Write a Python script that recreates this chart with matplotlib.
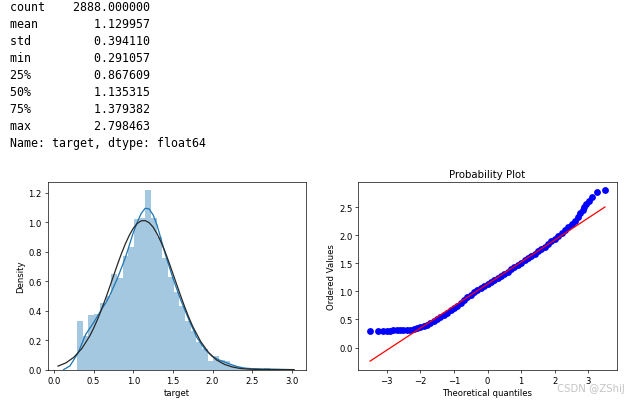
import numpy as np
import matplotlib
matplotlib.use("Agg")
import matplotlib.pyplot as plt

# describe() output printed above the figure
stat_names = ['count', 'mean', 'std', 'min', '25%', '50%', '75%', 'max']
stat_values = [2888.0, 1.129957, 0.394110, 0.291057, 0.867609, 1.135315, 1.379382, 2.798463]
series_footer = 'Name: target, dtype: float64'

# histogram densities (35 bins between min and max)
hist_density = [0.33, 0.23, 0.37, 0.38, 0.45, 0.50, 0.65, 0.62, 0.77, 0.83,
                1.02, 1.03, 1.22, 1.03, 0.90, 0.76, 0.63, 0.53, 0.43, 0.33,
                0.26, 0.19, 0.14, 0.06, 0.09, 0.065, 0.06, 0.03, 0.015, 0.01,
                0.005, 0.01, 0.005, 0.01, 0.005]

# kde curve (blue)
kde_x = [0.12, 0.2, 0.3, 0.4, 0.5, 0.6, 0.65, 0.7, 0.8, 0.9, 1.0, 1.05, 1.1, 1.15,
         1.2, 1.25, 1.3, 1.4, 1.5, 1.6, 1.7, 1.8, 1.9, 2.0, 2.1, 2.2, 2.3, 2.4,
         2.5, 2.6, 2.7, 2.8, 2.9, 3.0]
kde_y = [0.0, 0.025, 0.11, 0.24, 0.32, 0.41, 0.45, 0.50, 0.62, 0.76, 0.93, 1.00, 1.06, 1.095,
         1.09, 1.05, 0.98, 0.79, 0.62, 0.47, 0.34, 0.22, 0.14, 0.088, 0.062, 0.042, 0.022, 0.011,
         0.006, 0.005, 0.004, 0.003, 0.0015, 0.0005]

# fitted normal curve (dark)
fit_x = [0.05, 0.15, 0.25, 0.35, 0.45, 0.5, 0.55, 0.6, 0.65, 0.7, 0.75, 0.8, 0.85, 0.9,
         0.95, 1.0, 1.05, 1.1, 1.15, 1.2, 1.25, 1.3, 1.35, 1.4, 1.45, 1.5, 1.55, 1.6,
         1.65, 1.7, 1.75, 1.85, 1.95, 2.05, 2.15, 2.25, 2.35, 2.45, 2.55, 2.65, 2.75,
         2.85, 2.95, 3.03]
fit_y = [0.024, 0.046, 0.084, 0.143, 0.228, 0.282, 0.343, 0.410, 0.482, 0.558, 0.636, 0.713, 0.787, 0.854,
         0.912, 0.959, 0.992, 1.010, 1.011, 0.997, 0.967, 0.922, 0.866, 0.801, 0.728, 0.651, 0.574, 0.497,
         0.424, 0.355, 0.293, 0.191, 0.116, 0.066, 0.036, 0.018, 0.008, 0.004, 0.0015, 0.0006, 0.0002,
         0.0001, 0.0, 0.0]

# probability plot points
qq_theoretical = [-3.49, -3.25, -3.11, -3.0, -2.9, -2.8, -2.7, -2.6, -2.5, -2.4, -2.3, -2.2,
                  -2.1, -2.0, -1.9, -1.8, -1.7, -1.6, -1.5, -1.4, -1.3, -1.2, -1.1, -1.0,
                  -0.9, -0.8, -0.7, -0.6, -0.5, -0.4, -0.3, -0.2, -0.1, 0.0, 0.1, 0.2,
                  0.3, 0.4, 0.5, 0.6, 0.7, 0.8, 0.9, 1.0, 1.1, 1.2, 1.3, 1.4,
                  1.5, 1.6, 1.7, 1.8, 1.9, 2.0, 2.1, 2.2, 2.3, 2.4, 2.5, 2.6,
                  2.7, 2.76, 2.83, 2.88, 2.94, 3.02, 3.11, 3.25, 3.49]
qq_ordered = [0.29, 0.30, 0.30, 0.30, 0.30, 0.305, 0.305, 0.31, 0.31, 0.315, 0.32, 0.33,
              0.345, 0.36, 0.38, 0.41, 0.44, 0.47, 0.50, 0.54, 0.58, 0.62, 0.66, 0.70,
              0.74, 0.79, 0.85, 0.895, 0.94, 0.98, 1.02, 1.06, 1.10, 1.135, 1.17, 1.205,
              1.24, 1.275, 1.315, 1.35, 1.39, 1.43, 1.47, 1.51, 1.55, 1.59, 1.63, 1.67,
              1.71, 1.75, 1.79, 1.84, 1.89, 1.94, 1.99, 2.04, 2.10, 2.15, 2.20, 2.26,
              2.33, 2.39, 2.45, 2.50, 2.55, 2.60, 2.68, 2.76, 2.80]
qq_slope = 0.393
qq_intercept = 1.13

# the screenshot is a scaled-down render, shrink everything to match
s = 0.608
plt.rcParams.update({
    'font.size': 10 * s,
    'axes.linewidth': 0.8 * s,
    'xtick.major.size': 3.5 * s, 'ytick.major.size': 3.5 * s,
    'xtick.major.width': 0.8 * s, 'ytick.major.width': 0.8 * s,
    'xtick.major.pad': 3.5 * s, 'ytick.major.pad': 3.5 * s,
    'axes.labelpad': 4.0 * s, 'axes.titlepad': 6.0 * s,
    'lines.linewidth': 1.5 * s, 'lines.markersize': 6 * s,
})

fig, (ax1, ax2) = plt.subplots(1, 2, figsize=(6.38, 4.02), dpi=100)
fig.subplots_adjust(left=0.0748, right=0.9666, bottom=0.078, top=0.5455, wspace=0.2025)

# printed text block
lines = [f'{n:<5}    {v:>11.6f}' for n, v in zip(stat_names, stat_values)] + [series_footer]
for i, line in enumerate(lines):
    fig.text(10 / 638, 1 - (7.3 + 17.0 * i) / 402, line, family='DejaVu Sans Mono',
             fontsize=8.4, va='center', ha='left', color='black')

# left: distribution
edges = np.linspace(stat_values[3], stat_values[7], len(hist_density) + 1)
ax1.bar(edges[:-1], hist_density, width=np.diff(edges), align='edge',
        color='#1f77b4', alpha=0.4, linewidth=0)
ax1.plot(kde_x, kde_y, color='#1f77b4')
ax1.plot(fit_x, fit_y, color='#282828')
ax1.set_xlim(-0.08, 3.18)
ax1.set_ylim(0, 1.275)
ax1.set_xticks([0.0, 0.5, 1.0, 1.5, 2.0, 2.5, 3.0])
ax1.set_yticks([0.0, 0.2, 0.4, 0.6, 0.8, 1.0, 1.2])
ax1.set_xlabel('target')
ax1.set_ylabel('Density')

# right: probability plot
osm = np.array(qq_theoretical)
ax2.plot(osm, qq_ordered, 'bo', markersize=3.9)
ax2.plot(osm, qq_slope * osm + qq_intercept, 'r-')
ax2.set_title('Probability Plot')
ax2.set_xlabel('Theoretical quantiles')
ax2.set_ylabel('Ordered Values')

fig.text(0.98, 1 - 389.5 / 402, 'CSDN @ZShiJ', ha='right', va='center',
         fontsize=7.3, color='#c4c4c4')

fig.savefig('out.png', dpi=100)
